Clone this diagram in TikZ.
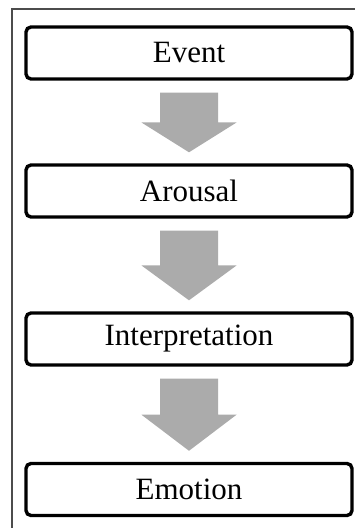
\documentclass[tikz,border=0pt]{standalone}
\usepackage{fontspec}
\setmainfont{Liberation Serif}
\usetikzlibrary{calc}

\tikzset{
  stagebox/.style={draw, line width=3.4pt, rounded corners=5pt, fill=white,
    minimum width=326pt, minimum height=52pt, inner sep=0pt,
    font=\fontsize{31}{36}\selectfont},
  flowarrow/.style={fill=black!33},
  frameline/.style={draw=black!70, line width=1.2pt}
}

\begin{document}
\begin{tikzpicture}[x=1pt, y=1pt]
  \useasboundingbox (0,0) rectangle (354,528);
  % outer frame (cut by the page at right and bottom)
  \draw[frameline] (12,-2) -- (12,519) -- (356,519);
  \node[stagebox] (ev) at (189,475)   {Event};
  \node[stagebox] (ar) at (189,337)   {Arousal};
  \node[stagebox] (ip) at (189,189)   {Interpretation};
  \node[stagebox] (em) at (189,38.5)  {Emotion};
  \foreach \a/\b in {ev/ar, ar/ip, ip/em}
    \fill[flowarrow] let \p1=($(\a.south)+(0,-12pt)$), \p2=($(\b.north)+(0,11pt)$),
      \n1={0.5*\y1+0.5*\y2} in
      (\x1-29pt,\y1) -- (\x1+29pt,\y1) -- (\x1+29pt,\n1) -- (\x1+47.5pt,\n1)
      -- (\x2,\y2) -- (\x1-47.5pt,\n1) -- (\x1-29pt,\n1) -- cycle;
\end{tikzpicture}
\end{document}
